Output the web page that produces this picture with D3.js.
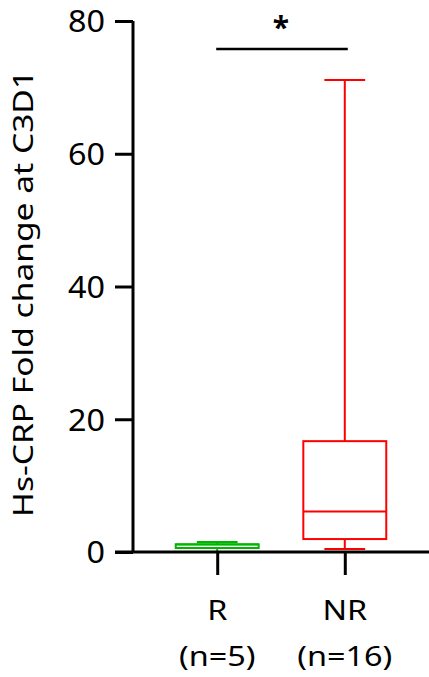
<!DOCTYPE html>
<meta charset="utf-8">
<style>
body { margin: 0; background: #fff; }
text { font-family: "Noto Sans", "Open Sans", sans-serif; fill: #000; }
</style>
<svg width="429" height="677"></svg>
<script src="https://cdn.jsdelivr.net/npm/d3@7"></script>
<script>

var groups = ["R", "NR"],
    groupN = ["(n=5)", "(n=16)"],
    colors = ["#00b400", "#ff0000"];

// min, q1, median, q3, max
var whiskerLow = [0.0, 0.45],
    q1 = [0.6, 1.95],
    median = [1.14, 6.1],
    q3 = [1.16, 16.7],
    whiskerHigh = [1.5, 71.1];

var yTicks = [0, 20, 40, 60, 80];

var svg = d3.select("svg"),
    width = +svg.attr("width"),
    height = +svg.attr("height");

var plotLeft = 133, plotBottom = 552, plotTop = 21;

var y = d3.scaleLinear()
    .domain([0, 80])
    .range([plotBottom, plotTop]);

var x = d3.scalePoint()
    .domain(groups)
    .range([plotLeft, width])
    .padding(0.66);

var step = x.step(),
    boxW = step * 0.65,
    capW = step * 0.32;

var boxes = groups.map(function(g, i) {
  return {g: g, color: colors[i], lo: whiskerLow[i], q1: q1[i], med: median[i], q3: q3[i], hi: whiskerHigh[i]};
});

var b = svg.append("g")
  .selectAll("g")
  .data(boxes)
  .enter().append("g")
    .attr("stroke", function(d) { return d.color; })
    .attr("stroke-width", 2)
    .attr("fill", "none");

// whiskers
b.append("line")
    .attr("x1", function(d) { return x(d.g); })
    .attr("x2", function(d) { return x(d.g); })
    .attr("y1", function(d) { return y(d.q3); })
    .attr("y2", function(d) { return y(d.hi); });
b.append("line")
    .attr("x1", function(d) { return x(d.g); })
    .attr("x2", function(d) { return x(d.g); })
    .attr("y1", function(d) { return y(d.q1); })
    .attr("y2", function(d) { return y(d.lo); });
b.selectAll(".cap")
  .data(function(d) { return [d.lo, d.hi].map(function(v) { return {g: d.g, v: v}; }); })
  .enter().append("line")
    .attr("class", "cap")
    .attr("x1", function(d) { return x(d.g) - capW / 2; })
    .attr("x2", function(d) { return x(d.g) + capW / 2; })
    .attr("y1", function(d) { return y(d.v); })
    .attr("y2", function(d) { return y(d.v); });

b.append("rect")
    .attr("x", function(d) { return x(d.g) - boxW / 2; })
    .attr("width", boxW)
    .attr("y", function(d) { return y(d.q3); })
    .attr("height", function(d) { return y(d.q1) - y(d.q3); })
    .attr("fill", "#fff");

b.append("line")
    .attr("x1", function(d) { return x(d.g) - boxW / 2; })
    .attr("x2", function(d) { return x(d.g) + boxW / 2; })
    .attr("y1", function(d) { return y(d.med); })
    .attr("y2", function(d) { return y(d.med); });

// y axis
var ya = svg.append("g")
    .attr("transform", "translate(" + plotLeft + ",0)")
    .call(d3.axisLeft(y).tickValues(yTicks).tickSize(18).tickPadding(10));
ya.select(".domain").attr("stroke-width", 3).attr("d", "M0," + plotTop + "V" + plotBottom);
ya.selectAll(".tick line").attr("stroke-width", 3);
ya.selectAll(".tick text")
    .style("font-size", "30px")
    .attr("dy", "0.36em")
    .attr("textLength", function(d) { return String(d).length * 18.5; })
    .attr("lengthAdjust", "spacingAndGlyphs")
    .attr("fill", "#000");

// x axis
var xa = svg.append("g")
    .attr("transform", "translate(0," + plotBottom + ")")
    .call(d3.axisBottom(x).tickSize(23).tickFormat(""));
xa.select(".domain").attr("stroke-width", 3).attr("d", "M115,0H" + width);
xa.selectAll(".tick line").attr("stroke-width", 3);

var lab = svg.append("g")
  .selectAll("g")
  .data(groups)
  .enter().append("g")
    .attr("transform", function(d) { return "translate(" + x(d) + ",0) scale(1.2,1)"; });
lab.append("text")
    .attr("y", 620)
    .attr("text-anchor", "middle")
    .style("font-size", "27px")
    .text(function(d) { return d; });
lab.append("text")
    .attr("y", 666)
    .attr("text-anchor", "middle")
    .style("font-size", "27px")
    .text(function(d, i) { return groupN[i]; });

// y label
svg.append("text")
    .attr("transform", "translate(33," + ((70 + 517) / 2) + ") rotate(-90)")
    .attr("text-anchor", "middle")
    .style("font-size", "27px")
    .attr("textLength", 447)
    .attr("lengthAdjust", "spacingAndGlyphs")
    .text("Hs-CRP Fold change at C3D1");

// significance
svg.append("line")
    .attr("x1", x("R") - 1)
    .attr("x2", x("NR") + 3)
    .attr("y1", 49)
    .attr("y2", 49)
    .attr("stroke", "#000")
    .attr("stroke-width", 2.5);
svg.append("text")
    .attr("x", (x("R") + x("NR")) / 2)
    .attr("y", 38)
    .attr("text-anchor", "middle")
    .style("font-size", "30px")
    .style("font-weight", "bold")
    .text("*");

</script>
